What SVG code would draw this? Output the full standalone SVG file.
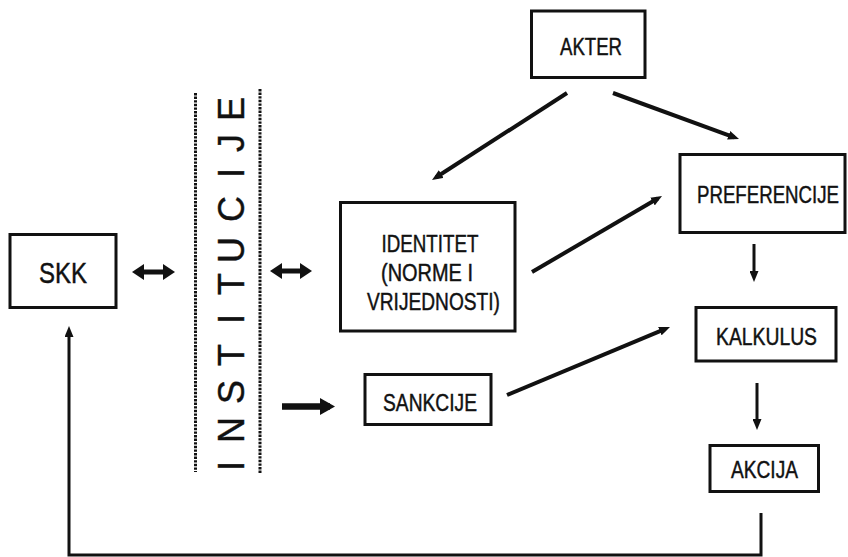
<svg xmlns="http://www.w3.org/2000/svg" width="848" height="557" viewBox="0 0 848 557">
<style>
.box{fill:#fff;stroke:#111;stroke-width:3}
.lbl{font-family:"Liberation Sans",Arial,sans-serif;font-size:24px;fill:#111;stroke:#111;stroke-width:0.45;text-anchor:middle}
.conn{stroke:#111;fill:none}
.dot{stroke:#111;stroke-width:3;stroke-dasharray:2.4 1.2;fill:none}
</style>
<defs>
<marker id="ah" markerUnits="userSpaceOnUse" markerWidth="11" markerHeight="9" refX="6" refY="4.5" orient="auto"><path d="M0,0 L11,4.5 L0,9 z" fill="#111"/></marker>
<marker id="dbl" markerUnits="userSpaceOnUse" markerWidth="12" markerHeight="16" refX="7" refY="8" orient="auto-start-reverse"><path d="M0,0 L12,8 L0,16 z" fill="#111"/></marker>
<marker id="thick" markerUnits="userSpaceOnUse" markerWidth="15" markerHeight="17" refX="10" refY="8.5" orient="auto"><path d="M0,0 L15,8.5 L0,17 z" fill="#111"/></marker>
</defs>
<rect width="848" height="557" fill="#fff"/>

<g id="institucije">
<line class="dot" x1="195.5" y1="93" x2="195.5" y2="472"/>
<line class="dot" x1="260" y1="89" x2="260" y2="473"/>
<text transform="rotate(-90)" x="-466 -430 -392 -355 -319 -284 -250 -209 -173 -143 -109" y="244" font-family="Liberation Sans, Arial, sans-serif" font-size="36" text-anchor="middle" fill="#111" stroke="#111" stroke-width="0.4">INSTITUCIJE</text>
</g>

<g id="skk">
<rect class="box" x="10" y="234.5" width="106" height="73"/>
<text class="lbl" transform="translate(63,283) scale(0.82,1)" style="font-size:30px" textLength="58.5" lengthAdjust="spacingAndGlyphs">SKK</text>
</g>

<g id="akter">
<rect class="box" x="531.5" y="11" width="113.5" height="66.5"/>
<text class="lbl" transform="translate(591,55) scale(0.82,1)" textLength="75.6" lengthAdjust="spacingAndGlyphs">AKTER</text>
</g>

<g id="preferencije">
<rect class="box" x="680" y="154.5" width="165" height="78"/>
<text class="lbl" transform="translate(768,203) scale(0.82,1)" textLength="173.2" lengthAdjust="spacingAndGlyphs">PREFERENCIJE</text>
</g>

<g id="identitet">
<rect class="box" x="340.5" y="202.5" width="174.5" height="128.5"/>
<text class="lbl" transform="translate(430,252) scale(0.82,1)" textLength="118.3" lengthAdjust="spacingAndGlyphs">IDENTITET</text>
<text class="lbl" transform="translate(427,281) scale(0.82,1)" textLength="112.2" lengthAdjust="spacingAndGlyphs">(NORME I</text>
<text class="lbl" transform="translate(433.5,310) scale(0.82,1)" textLength="162.2" lengthAdjust="spacingAndGlyphs">VRIJEDNOSTI)</text>
</g>

<g id="sankcije">
<rect class="box" x="365" y="374.5" width="126" height="50"/>
<text class="lbl" transform="translate(430,411) scale(0.82,1)" textLength="114.6" lengthAdjust="spacingAndGlyphs">SANKCIJE</text>
</g>

<g id="kalkulus">
<rect class="box" x="696" y="307.5" width="140" height="53.5"/>
<text class="lbl" transform="translate(766.5,345) scale(0.82,1)" textLength="123.2" lengthAdjust="spacingAndGlyphs">KALKULUS</text>
</g>

<g id="akcija">
<rect class="box" x="710" y="445.5" width="108.5" height="46"/>
<text class="lbl" transform="translate(764.5,478) scale(0.82,1)" textLength="81.7" lengthAdjust="spacingAndGlyphs">AKCIJA</text>
</g>

<g id="connectors">
<line class="conn" stroke-width="5" x1="137" y1="272" x2="170" y2="272" marker-start="url(#dbl)" marker-end="url(#dbl)"/>
<line class="conn" stroke-width="5" x1="275" y1="271" x2="307" y2="271" marker-start="url(#dbl)" marker-end="url(#dbl)"/>
<line class="conn" stroke-width="6.5" x1="282" y1="406.5" x2="330" y2="406.5" marker-end="url(#thick)"/>
<line class="conn" stroke-width="4" x1="567" y1="93" x2="436.2" y2="177.3" marker-end="url(#ah)"/>
<line class="conn" stroke-width="4" x1="613" y1="93" x2="734.3" y2="137.3" marker-end="url(#ah)"/>
<line class="conn" stroke-width="4" x1="532" y1="272" x2="657.7" y2="198.5" marker-end="url(#ah)"/>
<line class="conn" stroke-width="4" x1="507" y1="395" x2="665.4" y2="328.9" marker-end="url(#ah)"/>
<line class="conn" stroke-width="3" x1="754" y1="244" x2="754" y2="277" marker-end="url(#ah)"/>
<line class="conn" stroke-width="3" x1="757" y1="383" x2="757" y2="425" marker-end="url(#ah)"/>
<path class="conn" stroke-width="3" d="M761,513 V555 H69 V331" marker-end="url(#ah)"/>
</g>
</svg>
